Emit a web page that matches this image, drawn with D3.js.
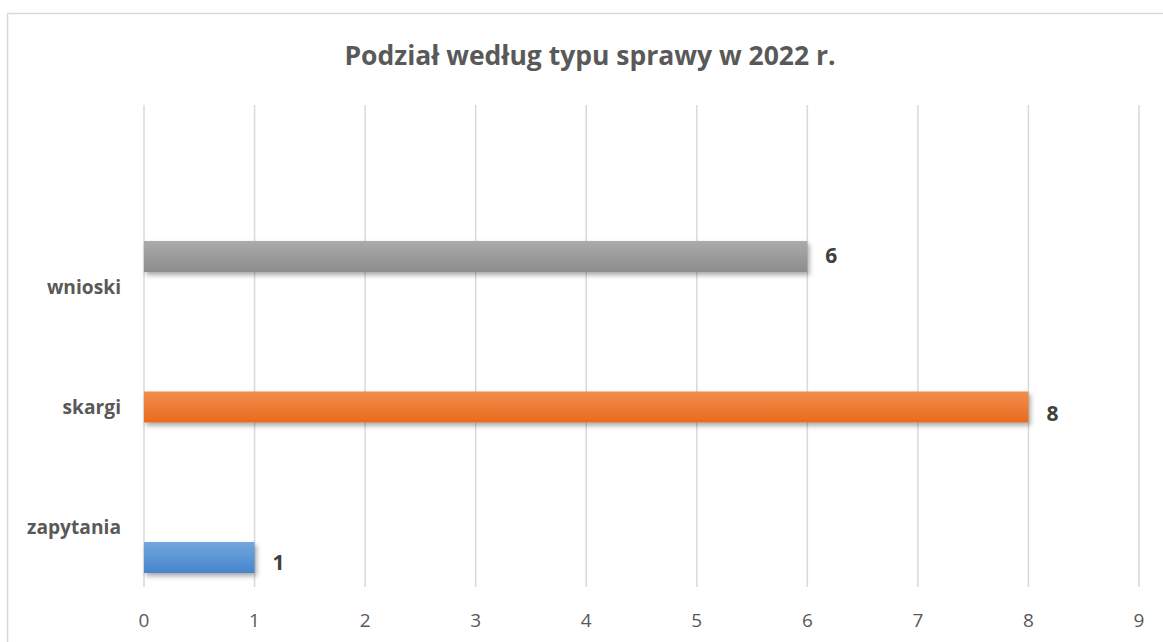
<!DOCTYPE html>
<html>
  <head>
    <meta charset="utf-8" />
    <title>Podział według typu sprawy w 2022 r.</title>
    <script src="https://d3js.org/d3.v7.min.js"></script>
    <style>
      body { margin: 0; background: #fff; }
      text { font-family: "Open Sans", "Noto Sans", sans-serif; fill: #595959; }
      .grid line { stroke: #d9d9d9; stroke-width: 1.5px; }
      .title { font-size: 26.5px; font-weight: bold; }
      .cat { font-size: 19.2px; font-weight: bold; }
      .tick-label { font-size: 19px; }
      .val { font-size: 21px; font-weight: bold; fill: #404040; }
    </style>
  </head>
  <body>
    <svg width="1163" height="642"></svg>
    <script>
      // dane
      const categories = ["zapytania", "skargi", "wnioski"];
      const values = [1, 8, 6];
      const xTicks = [0, 1, 2, 3, 4, 5, 6, 7, 8, 9];
      const title = "Podział według typu sprawy w 2022 r.";

      // kolory serii: [góra, dół]
      const colors = [
        ["#72a7de", "#4685cc"],
        ["#f28d50", "#e86b1b"],
        ["#ababab", "#8c8c8c"],
      ];

      const svg = d3.select("svg");
      const plotLeft = 144, plotRight = 1139, plotTop = 105, plotBottom = 587;

      const x = d3.scaleLinear().domain([0, 9]).range([plotLeft, plotRight]);
      // etykiety kategorii i słupki leżą na różnych pozycjach (jak w Excelu)
      const yLabel = d3.scalePoint().domain(categories).range([527, 287]);
      const yBar = d3.scalePoint().domain(categories).range([557.5, 256.5]);
      const barH = 31;

      // ramka wykresu
      svg.append("rect")
        .attr("x", 7.5).attr("y", 13.5)
        .attr("width", 1170).attr("height", 650)
        .attr("fill", "none").attr("stroke", "#d9d9d9").attr("stroke-width", 1.5);

      svg.append("text")
        .attr("class", "title")
        .attr("x", 590).attr("y", 65)
        .attr("text-anchor", "middle")
        .text(title);

      const defs = svg.append("defs");
      colors.forEach((c, i) => {
        const g = defs.append("linearGradient")
          .attr("id", "grad" + i)
          .attr("x1", 0).attr("y1", 0).attr("x2", 0).attr("y2", 1);
        g.append("stop").attr("offset", "0%").attr("stop-color", c[0]);
        g.append("stop").attr("offset", "100%").attr("stop-color", c[1]);
      });
      const shadow = defs.append("filter").attr("id", "shadow")
        .attr("x", "-5%").attr("y", "-30%").attr("width", "115%").attr("height", "180%");
      shadow.append("feDropShadow")
        .attr("dx", 2).attr("dy", 3).attr("stdDeviation", 2.5)
        .attr("flood-color", "#000").attr("flood-opacity", 0.35);

      // siatka
      svg.append("g").attr("class", "grid")
        .selectAll("line")
        .data(xTicks)
        .join("line")
        .attr("x1", (d) => x(d)).attr("x2", (d) => x(d))
        .attr("y1", plotTop).attr("y2", plotBottom);

      // etykiety osi X
      svg.append("g")
        .selectAll("text")
        .data(xTicks)
        .join("text")
        .attr("class", "tick-label")
        .attr("x", (d) => x(d))
        .attr("y", 627)
        .attr("text-anchor", "middle")
        .text((d) => d);

      // etykiety kategorii
      svg.append("g")
        .selectAll("text")
        .data(categories)
        .join("text")
        .attr("class", "cat")
        .attr("x", 121)
        .attr("y", (d) => yLabel(d) + 6.5)
        .attr("text-anchor", "end")
        .text((d) => d);

      // słupki
      svg.append("g")
        .selectAll("rect")
        .data(categories)
        .join("rect")
        .attr("x", x(0))
        .attr("y", (d) => yBar(d) - barH / 2)
        .attr("width", (d, i) => x(values[i]) - x(0))
        .attr("height", barH)
        .attr("fill", (d, i) => `url(#grad${i})`)
        .attr("filter", "url(#shadow)");

      // wartości
      svg.append("g")
        .selectAll("text")
        .data(categories)
        .join("text")
        .attr("class", "val")
        .attr("x", (d, i) => x(values[i]) + 24)
        .attr("y", (d, i) => yBar(d) + [12, 14, 6][i])
        .attr("text-anchor", "middle")
        .text((d, i) => values[i]);
    </script>
  </body>
</html>
